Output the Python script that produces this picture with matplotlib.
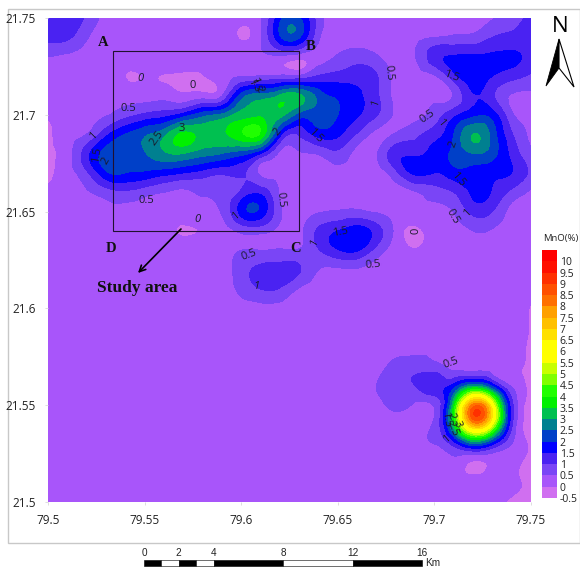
import matplotlib
matplotlib.use("Agg")
import matplotlib.pyplot as plt
import matplotlib.tri as mtri
import numpy as np
from matplotlib.patches import Polygon, Rectangle

W, H = 580, 567

lons = np.round(np.arange(79.5, 79.7501, 0.01), 2)
lats = np.round(np.arange(21.75, 21.4999, -0.01), 2)

# MnO values, one row per 0.01 deg of latitude (north to south)
mno = np.array([
    [1.3, 1.4, .9, .35, .3, .3, .3, .3, .25, .3, .3, .45, 1.85, 2.05, .75, .3, .3, .3, .3, .3, .3, .3, .3, .45, .85, 1.05],
    [1.15, 1.1, .55, .3, .3, .3, .3, .3, .3, .25, -.05, .45, 1.9, 2.05, .6, .3, .3, .35, .35, .4, .5, .6, .65, 1.0, 1.15, 1.2],
    [.5, .4, .3, .3, .3, .3, .3, .3, .3, .25, .25, .35, .4, .2, .3, .55, .75, .55, .3, .48, 1.3, 1.55, 1.6, 1.6, 1.6, 1.3],
    [.3, .3, .3, .3, .0, .02, -.02, -.1, -.05, .3, .45, .55, .6, .6, 1.05, 1.2, 1.3, 1.05, .35, .3, .45, 1.3, 1.8, 1.5, 1.2, .9],
    [.3, .3, .3, .3, .3, .3, .3, .1, .2, .45, 2.2, 2.7, 3.05, 3.1, 2.3, 1.9, 1.6, 1.1, .35, .3, .35, .55, 1.45, 1.1, .45, .4],
    [.1, .3, .35, .45, .8, 1.1, 1.3, 1.7, 2.3, 2.6, 3.2, 3.4, 3.2, 2.3, 2.3, 2.0, 1.55, 1.05, .4, .35, .7, 1.35, 1.85, 1.75, .6, .35],
    [-.2, .3, .5, 1.35, 2.0, 2.4, 2.85, 3.6, 3.3, 3.4, 3.9, 3.9, 1.7, 1.05, 1.7, 1.6, .95, .35, .55, .85, 1.25, 2.0, 3.0, 2.3, 1.05, .4],
    [-.2, .3, 1.3, 2.2, 2.3, 2.45, 2.9, 3.0, 2.7, 2.5, 2.2, 1.5, .4, .45, .55, .85, .3, .45, 1.3, 1.4, 1.7, 2.1, 2.5, 2.2, 1.35, .6],
    [-.2, .3, .9, 1.9, 2.0, 1.9, 1.7, 1.5, 1.3, 1.1, 1.1, .4, .3, .3, .3, .35, .3, .3, .85, 1.6, 1.5, 1.8, 1.8, 1.65, 1.5, .85],
    [.15, .3, .45, .75, .9, .7, .5, .4, .55, .55, 1.1, 1.35, .45, .28, .3, .3, .3, .3, .3, .45, .75, 1.0, 1.6, 1.45, .85, .4],
    [.25, .25, .25, .35, .35, .3, .25, .25, .3, .55, 1.7, 1.85, .6, .25, .45, .55, .6, .45, .3, .3, .35, .52, 1.15, 1.0, .35, .3],
    [.3, .3, .3, .3, .3, .3, .2, -.05, .05, .28, .6, .65, .35, .35, 1.1, 1.5, 1.8, 1.25, .35, -.15, .3, .3, .5, .45, .3, .3],
    [.3, .3, .3, .3, .3, .3, .3, .3, .3, .3, .5, .5, .55, .55, .95, 1.45, 1.55, .8, .28, .05, .3, .3, .3, .3, .3, .3],
    [.3, .3, .3, .3, .3, .3, .3, .3, .3, .3, .75, 1.15, 1.2, 1.05, .5, .42, .45, .3, .3, .3, .3, .3, .3, .3, .3, .3],
    [.3, .3, .3, .3, .3, .3, .3, .3, .3, .25, .65, 1.0, .95, .45, .3, .3, .3, .3, .3, .3, .3, .3, .3, .3, .3, .2],
    [.3, .3, .3, .3, .3, .3, .3, .3, .3, .3, .3, .35, .35, .3, .3, .3, .3, .3, .3, .3, .3, .3, .3, .3, .3, -.05],
    [.3, .3, .3, .3, .3, .3, .3, .3, .3, .3, .3, .3, .3, .3, .3, .3, .3, .3, .3, .3, .3, .3, .3, .3, .3, -.05],
    [.3, .3, .3, .3, .3, .3, .3, .3, .3, .3, .3, .3, .3, .3, .3, .3, .3, .3, .3, .35, .4, .3, .3, .3, .2, -.1],
    [.3, .3, .3, .3, .3, .3, .3, .3, .3, .3, .3, .3, .3, .3, .3, .3, .3, .3, .7, .8, .7, .4, .35, .3, .1, -.1],
    [.3, .3, .3, .3, .3, .3, .3, .3, .3, .3, .3, .3, .3, .3, .3, .3, .3, .5, .9, 1.0, 1.4, 1.7, 2.9, 1.9, .45, -.2],
    [.3, .3, .3, .3, .3, .3, .3, .3, .3, .3, .3, .3, .3, .3, .3, .3, .3, .3, .65, .4, .55, 3.5, 8.2, 6.0, 1.2, -.3],
    [.3, .3, .3, .3, .3, .3, .3, .3, .3, .3, .3, .3, .3, .3, .3, .3, .3, .25, .3, .3, .6, 3.4, 7.5, 5.5, 1.1, -.3],
    [.3, .3, .3, .3, .3, .3, .3, .3, .3, .3, .3, .3, .3, .3, .3, .3, .3, .3, .3, .3, .5, 1.2, 2.4, 1.6, .5, -.1],
    [.3, .3, .3, .3, .3, .3, .3, .3, .3, .3, .3, .3, .3, .3, .3, .3, .3, .3, .3, .3, .3, .35, -.1, .1, .1, -.1],
    [.3, .3, .3, .3, .3, .3, .3, .3, .3, .3, .3, .3, .3, .3, .3, .3, .3, .3, .3, .3, .3, .3, .3, .3, .1, -.1],
    [.3, .3, .3, .3, .3, .3, .3, .3, .3, .3, .3, .3, .3, .3, .3, .3, .3, .3, .3, .3, .3, .3, .3, .2, -.1, -.1],
])

levels = np.arange(-0.5, 10.51, 0.5)
band_colors = [
    "#d06ff0", "#a855fa", "#7a45f6", "#4a22f2", "#0000ff", "#0040c8", "#008090",
    "#00c050", "#00f000", "#20ff00", "#80ff00", "#c8ff00", "#ffff00", "#ffff00",
    "#ffe000", "#ffc000", "#ffa000", "#ff7000", "#ff5000", "#ff3000", "#ff1000", "#ff0000",
]

tick_lons = [79.5, 79.55, 79.6, 79.65, 79.7, 79.75]
tick_lats = [21.5, 21.55, 21.6, 21.65, 21.7, 21.75]
bar_ticks = np.arange(-0.5, 10.01, 0.5)

# contour labels: text, lon, lat, rotation, italic
contour_labels = [
    ("0", 79.5476, 21.7190, 0, True), ("0", 79.5750, 21.7150, 0, False),
    ("0.5", 79.5414, 21.7035, 0, False), ("1", 79.5238, 21.6890, 45, False),
    ("1.5", 79.5254, 21.6795, 80, False), ("2", 79.5300, 21.6760, 60, False),
    ("2.5", 79.5564, 21.6880, 55, False), ("3", 79.5694, 21.6930, 0, False),
    ("0.5", 79.5507, 21.6555, 0, False), ("0", 79.5771, 21.6460, 0, True),
    ("1", 79.5973, 21.6475, 40, False), ("0.5", 79.6206, 21.6560, -85, False),
    ("2", 79.6190, 21.6910, 50, False), ("1", 79.6051, 21.7170, -70, False),
    ("1.5", 79.6072, 21.7160, -80, False), ("2", 79.6092, 21.7130, -70, False),
    ("0.5", 79.6040, 21.6275, 20, False), ("0.5", 79.6765, 21.7220, -85, False),
    ("1", 79.6698, 21.7060, 70, False), ("1.5", 79.6382, 21.6890, -45, False),
    ("1.5", 79.7086, 21.7200, -20, False), ("0.5", 79.6962, 21.6990, 35, False),
    ("1", 79.7034, 21.6960, -50, False), ("2", 79.7096, 21.6850, 70, False),
    ("1.5", 79.7122, 21.6665, -50, False), ("1", 79.7174, 21.6495, 45, False),
    ("0.5", 79.7096, 21.6475, -60, False), ("1.5", 79.6511, 21.6395, 10, False),
    ("1", 79.6377, 21.6340, 60, False), ("0", 79.6905, 21.6400, 90, False),
    ("0.5", 79.6682, 21.6225, 5, False), ("1", 79.6077, 21.6115, 0, True),
    ("0.5", 79.7086, 21.5720, 20, False), ("1", 79.7065, 21.5325, 40, False),
    ("1.5", 79.7060, 21.5425, -80, False), ("2", 79.7085, 21.5445, -70, False),
    ("3", 79.7115, 21.5400, -70, False), ("2.5", 79.7095, 21.5380, -70, False),
]

# study area rectangle and its corner letters
study_lon = [79.5336, 79.6300]
study_lat = [21.6400, 21.7330]
corner_labels = [("A", 103, 42), ("B", 311, 46), ("C", 296, 249), ("D", 111, 249)]

# scale bar stops in km
scale_km = [0, 1, 2, 3, 4, 8, 12, 16]
scale_ticks = [0, 2, 4, 8, 12, 16]

plt.rcParams["font.family"] = "Open Sans"
fig = plt.figure(figsize=(W / 100, H / 100), dpi=100, facecolor="white")


def box(left, top, right, bottom):
    return [left / W, 1 - bottom / H, (right - left) / W, (bottom - top) / H]


# page overlay in pixel coordinates
page = fig.add_axes([0, 0, 1, 1], zorder=0)
page.set_xlim(0, W)
page.set_ylim(H, 0)
page.axis("off")
page.add_patch(Rectangle((8, 9), 572, 534, fc="white", ec="#c8c8c8", lw=1))

ax = fig.add_axes(box(48, 18, 531, 502), zorder=1)
lon_grid, lat_grid = np.meshgrid(lons, lats)
tri = mtri.Triangulation(lon_grid.ravel(), lat_grid.ravel())
refiner = mtri.UniformTriRefiner(tri)
fine_tri, fine_z = refiner.refine_field(mno.ravel(), subdiv=3)
ax.tricontourf(fine_tri, np.clip(fine_z, -0.49, 10.49), levels=levels, colors=band_colors)
ax.set_xlim(79.5, 79.75)
ax.set_ylim(21.5, 21.75)
ax.set_xticks(tick_lons, [f"{v:g}" for v in tick_lons])
ax.set_yticks(tick_lats, [f"{v:g}" for v in tick_lats])
ax.tick_params(length=2, width=0.6, color="#d8d8d8", labelsize=8.5, labelcolor="#222222", pad=7)
for spine in ax.spines.values():
    spine.set_visible(False)

for text, lon, lat, rot, italic in contour_labels:
    ax.text(lon, lat, text, fontsize=8, rotation=rot, ha="center", va="center",
            style="italic" if italic else "normal", color="#1a1a2a")

ax.add_patch(Rectangle((study_lon[0], study_lat[0]), study_lon[1] - study_lon[0],
                       study_lat[1] - study_lat[0], fc="none", ec="#201030", lw=0.8))

# things that sit above the map and in the margin
top = fig.add_axes([0, 0, 1, 1], zorder=3)
top.set_xlim(0, W)
top.set_ylim(H, 0)
top.axis("off")
serif = "Liberation Serif"
for text, x, y in corner_labels:
    top.text(x, y, text, family=serif, weight="bold", fontsize=10.5, ha="center", va="center", color="#111111")
top.text(137, 288, "Study area", family=serif, weight="bold", fontsize=12.5, ha="center", va="center", color="#111111")
top.annotate("", xy=(138, 273), xytext=(181, 229),
             arrowprops=dict(arrowstyle="->", lw=1.2, color="black", mutation_scale=11, shrinkA=0, shrinkB=0))

# north arrow
top.text(560, 27, "N", fontsize=16, ha="center", va="center", color="black")
top.add_patch(Polygon([(559, 39), (546, 86), (559, 68)], fc="black", ec="black", lw=0.6))
top.add_patch(Polygon([(559, 39), (574, 87), (559, 68)], fc="white", ec="black", lw=0.8))

# scale bar
km_to_px = (422 - 144) / 16
for i in range(len(scale_km) - 1):
    x0 = 144 + scale_km[i] * km_to_px
    x1 = 144 + scale_km[i + 1] * km_to_px
    top.add_patch(Rectangle((x0, 560), x1 - x0, 5.5, fc="white" if i % 2 else "black", ec="black", lw=0.4))
for km in scale_ticks:
    top.text(144 + km * km_to_px, 553, str(km), family="Liberation Sans", fontsize=7.2, ha="center", va="center", color="#222222")
top.text(425, 562.5, "Km", family="Liberation Sans", fontsize=7.2, ha="left", va="center", color="#222222")

# colour legend
cax = fig.add_axes(box(542, 250, 557, 498), zorder=2)
cax.bar(0, np.diff(levels), bottom=levels[:-1], width=1, color=band_colors, align="center")
cax.set_xlim(-0.5, 0.5)
cax.set_ylim(-0.5, 10.5)
cax.set_xticks([])
cax.set_yticks(bar_ticks, [f"{v:g}" for v in bar_ticks])
cax.yaxis.tick_right()
cax.tick_params(length=0, labelsize=7.5, pad=2, labelcolor="#222222")
for spine in cax.spines.values():
    spine.set_visible(False)
top.text(578, 238, "MnO(%)", fontsize=6.8, ha="right", va="center", color="#222222")

fig.savefig("out.png", dpi=100)
